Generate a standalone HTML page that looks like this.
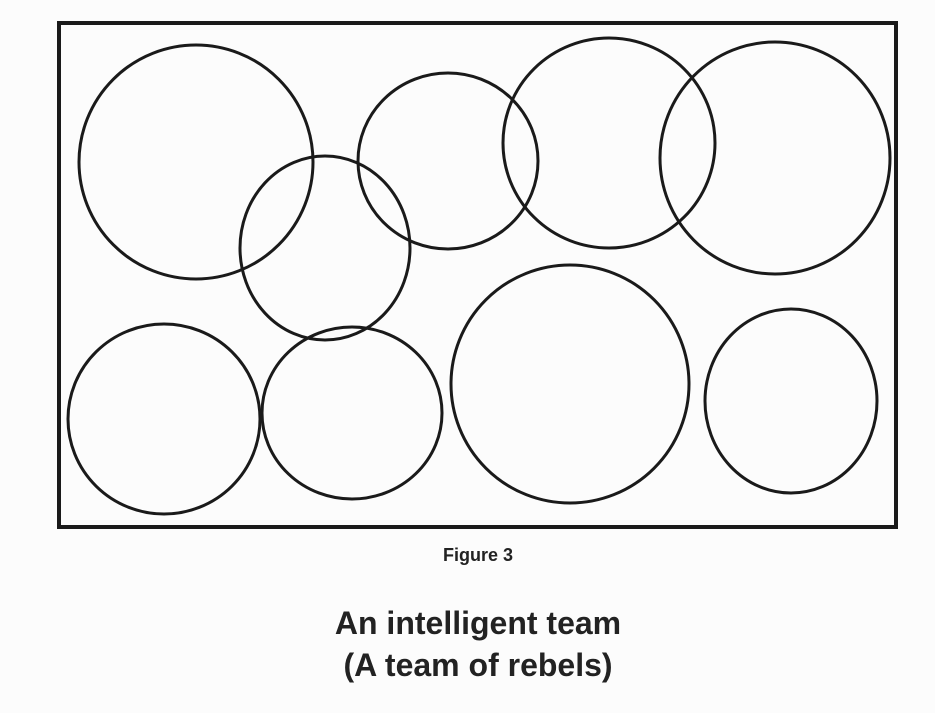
<!DOCTYPE html>
<html><head><meta charset="utf-8"><style>
html,body{margin:0;padding:0;background:#fcfcfc;}
body{width:935px;height:713px;position:relative;overflow:hidden;font-family:"Liberation Sans",sans-serif;}
.t{position:absolute;left:0;width:956px;text-align:center;font-weight:bold;color:#222;}
</style></head><body>
<svg width="935" height="713" style="position:absolute;left:0;top:0">
<rect x="59" y="23" width="837" height="504" fill="none" stroke="#1a1a1a" stroke-width="4"/>
<g fill="none" stroke="#1a1a1a" stroke-width="3">
<ellipse cx="196" cy="162" rx="117" ry="117"/>
<ellipse cx="325" cy="248" rx="85" ry="92"/>
<ellipse cx="448" cy="161" rx="90" ry="88"/>
<ellipse cx="609" cy="143" rx="106" ry="105"/>
<ellipse cx="775" cy="158" rx="115" ry="116"/>
<ellipse cx="164" cy="419" rx="96" ry="95"/>
<ellipse cx="352" cy="413" rx="90" ry="86"/>
<ellipse cx="570" cy="384" rx="119" ry="119"/>
<ellipse cx="791" cy="401" rx="86" ry="92"/>
</g>
</svg>
<div class="t" style="top:545px;font-size:18px;">Figure 3</div>
<div class="t" style="top:602px;font-size:32px;line-height:42px;">An intelligent team<br>(A team of rebels)</div>
</body></html>
